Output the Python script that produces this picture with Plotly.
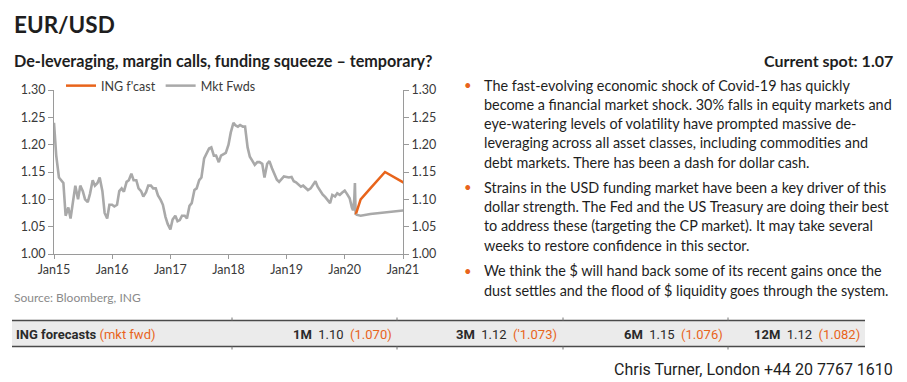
import pandas as pd
import plotly.graph_objects as go

# ---------------- data ----------------
spot_2015 = [1.240, 1.180, 1.140, 1.135, 1.130, 1.070, 1.085, 1.065, 1.100, 1.125, 1.100, 1.125,
             1.115, 1.100, 1.095, 1.110, 1.135, 1.125, 1.130, 1.140, 1.115, 1.075, 1.065, 1.090]
spot_2016 = [1.090, 1.087, 1.090, 1.115, 1.120, 1.114, 1.132, 1.135, 1.147, 1.135, 1.135, 1.120,
             1.115, 1.105, 1.113, 1.125, 1.125, 1.120, 1.120, 1.107, 1.099, 1.090, 1.068, 1.055]
spot_2017 = [1.045, 1.063, 1.070, 1.060, 1.062, 1.070, 1.070, 1.065, 1.088, 1.093, 1.117, 1.120,
             1.135, 1.140, 1.175, 1.182, 1.193, 1.195, 1.180, 1.180, 1.168, 1.180, 1.183, 1.185]
spot_2018 = [1.200, 1.222, 1.240, 1.235, 1.233, 1.236, 1.233, 1.233, 1.195, 1.178, 1.170, 1.163,
             1.168, 1.168, 1.165, 1.140, 1.165, 1.170, 1.157, 1.148, 1.136, 1.132, 1.138, 1.142]
spot_2019 = [1.141, 1.140, 1.141, 1.133, 1.131, 1.127, 1.123, 1.125, 1.120, 1.117, 1.120, 1.126,
             1.133, 1.123, 1.115, 1.109, 1.104, 1.098, 1.093, 1.108, 1.105, 1.111, 1.108, 1.112]
spot_2020 = [1.116, 1.110, 1.102, 1.085]
late_dates = ["2020-02-22", "2020-03-01", "2020-03-05", "2020-03-08", "2020-03-10"]
late_spot = [1.080, 1.100, 1.130, 1.090, 1.072]

fc_dates = ["2020-03-10", "2020-04-10", "2020-06-10", "2020-09-10", "2021-03-10"]
ing_fcast = [1.072, 1.10, 1.12, 1.15, 1.12]
mkt_fwds = [1.072, 1.070, 1.073, 1.076, 1.082]

table_labels = ["1M", "3M", "6M", "12M"]
table_ing = ["1.10", "1.12", "1.15", "1.12"]
table_fwd = ["(1.070)", "('1.073)", "(1.076)", "(1.082)"]

bullets = [
    ["The fast-evolving economic shock of Covid-19 has quickly",
     "become a financial market shock. 30% falls in equity markets and",
     "eye-watering levels of volatility have prompted massive de-",
     "leveraging across all asset classes, including commodities and",
     "debt markets. There has been a dash for dollar cash."],
    ["Strains in the USD funding market have been a key driver of this",
     "dollar strength. The Fed and the US Treasury are doing their best",
     "to address these (targeting the CP market). It may take several",
     "weeks to restore confidence in this sector."],
    ["We think the $ will hand back some of its recent gains once the",
     "dust settles and the flood of $ liquidity goes through the system."],
]

# ---------------- build ----------------
hist_dates = list(pd.date_range("2015-01-01", "2020-02-15", freq="SMS")) + list(pd.to_datetime(late_dates))
hist_vals = spot_2015 + spot_2016 + spot_2017 + spot_2018 + spot_2019 + spot_2020 + late_spot

ORANGE = "#e8641b"
GREY = "#a9a9a9"
AXC = "#9a9a9a"
TXT = "#1e1e1e"
FONT = "Lato"
NFONT = "Roboto"

W, H = 907, 382
L, R, T, B = 54, 403, 90, 254


def px(x):
    return (x - L) / (R - L)


def py(y):
    return (B - y) / (B - T)


fig = go.Figure()
fig.add_trace(go.Scatter(x=hist_dates, y=hist_vals, mode="lines", line=dict(color=GREY, width=2.6),
                         showlegend=False, hoverinfo="skip"))
fig.add_trace(go.Scatter(x=pd.to_datetime(fc_dates), y=ing_fcast, mode="lines", name="ING f'cast",
                         line=dict(color=ORANGE, width=2.5), yaxis="y2"))
fig.add_trace(go.Scatter(x=pd.to_datetime(fc_dates), y=mkt_fwds, mode="lines", name="Mkt Fwds",
                         line=dict(color=GREY, width=2.5), yaxis="y2"))

yax = dict(range=[1.0, 1.30], dtick=0.05, tickformat=".2f", showgrid=False, zeroline=False,
           showline=True, linecolor=AXC, linewidth=1, ticks="outside", ticklen=5, tickcolor=AXC,
           tickfont=dict(family=FONT, size=12.5, color="#3a3a3a"), fixedrange=True)

fig.update_layout(
    width=W, height=H,
    margin=dict(l=L, r=W - R, t=T, b=H - B, autoexpand=False),
    paper_bgcolor="white", plot_bgcolor="white",
    xaxis=dict(type="date", range=["2015-01-01", "2021-01-01"], tick0="2015-01-01", dtick="M12",
               tickformat="%b%y", showgrid=False, zeroline=False, showline=True, linecolor=AXC,
               linewidth=1, ticks="outside", ticklen=4, tickcolor=AXC,
               tickfont=dict(family=FONT, size=12.5, color="#3a3a3a")),
    yaxis=dict(**yax, side="left"),
    yaxis2=dict(**yax, side="right", overlaying="y"),
    legend=dict(orientation="h", x=px(61), y=py(86), xanchor="left", yanchor="middle",
                font=dict(family=FONT, size=12.5, color="#3a3a3a"), bgcolor="rgba(0,0,0,0)",
                itemwidth=30, traceorder="normal"),
    showlegend=True,
)

ann = []


def text(x, y, s, size, color=TXT, anchor="left", family=FONT, weight=None):
    f = dict(family=family, size=size, color=color)
    if weight:
        f["weight"] = weight
    ann.append(dict(xref="paper", yref="paper", x=px(x), y=py(y), text=s, showarrow=False,
                    xanchor=anchor, yanchor="middle", font=f, borderpad=0))


text(13, 24, "EUR/USD", 22.5, weight="bold")
text(13, 60, "De-leveraging, margin calls, funding squeeze \u2013 temporary?", 16.2, weight="bold")
text(894, 60, "Current spot: 1.07", 16, anchor="right", weight="bold")
text(13, 297, "Source: Bloomberg, ING", 12, color="#8a8a8a")

line_pitch = 19.3
para_starts = [85, 187.3, 270.7]
for p, lines in enumerate(bullets):
    y0 = para_starts[p]
    text(463, y0, "\u2022", 13, color=ORANGE)
    for i, s in enumerate(lines):
        text(483, y0 + i * line_pitch, s, 14.4)

# table
col_right = [393, 558, 724, 861]
for lab, v, fw, xr in zip(table_labels, table_ing, table_fwd, col_right):
    text(xr, 334, f"<b>{lab}</b>  {v}  <span style='color:{ORANGE}'>{fw}</span>", 13,
         color="#2a2a2a", anchor="right", family=NFONT)
text(15, 334, f"<b>ING forecasts</b> <span style='color:{ORANGE}'>(mkt fwd)</span>", 13,
     color="#2a2a2a", family=NFONT)
text(894, 369, "Chris Turner, London +44 20 7767 1610", 16, anchor="right", family=NFONT)

fig.update_layout(annotations=ann)

shapes = [
    dict(type="rect", xref="paper", yref="paper", x0=px(12), x1=px(865), y0=py(320.5), y1=py(346.5),
         fillcolor="#ebebeb", line=dict(width=0), layer="below"),
    dict(type="line", xref="paper", yref="paper", x0=px(12), x1=px(865), y0=py(320.5), y1=py(320.5),
         line=dict(color="#4a4a4a", width=1.5)),
    dict(type="line", xref="paper", yref="paper", x0=px(12), x1=px(865), y0=py(346.5), y1=py(346.5),
         line=dict(color="#4a4a4a", width=1.5)),
]
for xs in [232, 397, 563, 728]:
    shapes.append(dict(type="line", xref="paper", yref="paper", x0=px(xs), x1=px(xs), y0=py(317.5), y1=py(320.5),
                       line=dict(color="#777777", width=1)))
    shapes.append(dict(type="line", xref="paper", yref="paper", x0=px(xs), x1=px(xs), y0=py(346.5), y1=py(349.5),
                       line=dict(color="#777777", width=1)))
fig.update_layout(shapes=shapes)

fig.write_html("out.html", config={"displayModeBar": False},
               post_script="document.body.style.margin='0';document.body.style.overflow='hidden';")
